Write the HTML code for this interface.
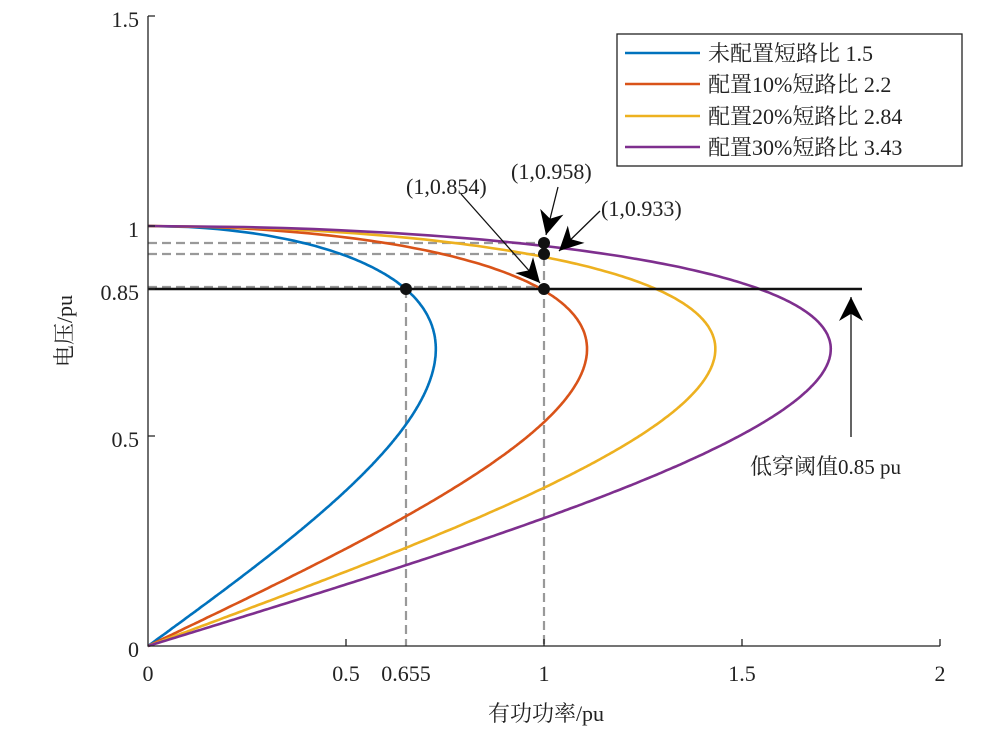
<!DOCTYPE html><html><head><meta charset="utf-8"><style>body{margin:0;background:#fff}svg{display:block}text{font-family:"Liberation Serif","Noto Serif CJK SC",serif;fill:#222}</style></head><body>
<svg id="s" width="998" height="741" xmlns="http://www.w3.org/2000/svg">
<defs><marker id="ah" viewBox="0 0 10 10" refX="10" refY="5" markerWidth="16" markerHeight="16" markerUnits="userSpaceOnUse" orient="auto"><path d="M0,0 L10,5 L0,10 L3,5z" fill="#000"/></marker>
<marker id="ah2" viewBox="0 0 10 10" refX="10" refY="5" markerWidth="24" markerHeight="24" markerUnits="userSpaceOnUse" orient="auto"><path d="M0,0 L10,5 L0,10 L3,5z" fill="#000"/></marker></defs>
<g stroke="#999" stroke-width="2.2" stroke-dasharray="9,5" fill="none">
<line x1="148" y1="243" x2="544" y2="243"/><line x1="148" y1="254" x2="544" y2="254"/><line x1="148" y1="287" x2="544" y2="287"/>
<line x1="406" y1="289" x2="406" y2="646"/><line x1="544" y1="243" x2="544" y2="646"/></g>
<g id="curves" fill="none" stroke-width="2.6"></g>
<line x1="148" y1="289" x2="862" y2="289" stroke="#111" stroke-width="2.6"/>
<g fill="#111"><circle cx="406" cy="289" r="6"/><circle cx="544" cy="289" r="6"/><circle cx="544" cy="243" r="6"/><circle cx="544" cy="254" r="6"/></g>
<g stroke="#111" stroke-width="1.3" fill="none">
<line x1="461" y1="194" x2="540" y2="283" marker-end="url(#ah2)"/><line x1="558" y1="187" x2="546" y2="235" marker-end="url(#ah2)"/><line x1="600" y1="211" x2="559" y2="251" marker-end="url(#ah2)"/><line x1="851" y1="437" x2="851" y2="297" marker-end="url(#ah2)"/></g>
<g font-size="22"><text x="406" y="194">(1,0.854)</text><text x="511" y="179">(1,0.958)</text><text x="601" y="216">(1,0.933)</text>
<text x="750" y="474">低穿阈值<tspan font-size="21">0.85 pu</tspan></text></g>
<g stroke="#222" stroke-width="1.3" fill="none"><path d="M148,16 V646 H940"/>
<path d="M148,436 h7 M148,289 h7 M148,226 h7 M148,16 h7 M346,646 v-7 M544,646 v-7 M742,646 v-7 M940,646 v-7"/></g>
<g font-size="22" text-anchor="end"><text x="139" y="27">1.5</text><text x="139" y="237">1</text><text x="139" y="300">0.85</text><text x="139" y="447">0.5</text><text x="139" y="657">0</text></g>
<g font-size="22" text-anchor="middle"><text x="148" y="681">0</text><text x="346" y="681">0.5</text><text x="406" y="681">0.655</text><text x="544" y="681">1</text><text x="742" y="681">1.5</text><text x="940" y="681">2</text>
<text x="546" y="721">有功功率/pu</text></g>
<text transform="translate(72,331) rotate(-90)" font-size="22" text-anchor="middle">电压/pu</text>
<rect x="617" y="34" width="345" height="132" fill="#fff" stroke="#222" stroke-width="1.3"/>
<g stroke-width="2.6"><line x1="625" y1="53" x2="700" y2="53" stroke="#0072BD"/><line x1="625" y1="84" x2="700" y2="84" stroke="#D95319"/><line x1="625" y1="116" x2="700" y2="116" stroke="#EDB120"/><line x1="625" y1="147" x2="700" y2="147" stroke="#7E2F8E"/></g>
<g font-size="22"><text x="708" y="61">未配置短路比 1.5</text><text x="708" y="92">配置10%短路比 2.2</text><text x="708" y="124">配置20%短路比 2.84</text><text x="708" y="155">配置30%短路比 3.43</text></g>
</svg>
<script>
var g=document.getElementById('curves'),X=[0.688,0.451,0.349,0.290],C=['#0072BD','#D95319','#EDB120','#7E2F8E'];
for(var k=0;k<4;k++){var d='';for(var i=0;i<=400;i++){var V=i/400,P=V*Math.sqrt(1-V*V)/X[k];d+=(i?'L':'M')+(148+P*396).toFixed(1)+','+(646-V*420).toFixed(1);}
var p=document.createElementNS('http://www.w3.org/2000/svg','path');p.setAttribute('d',d);p.setAttribute('stroke',C[k]);g.appendChild(p);}
</script>
</body></html>
